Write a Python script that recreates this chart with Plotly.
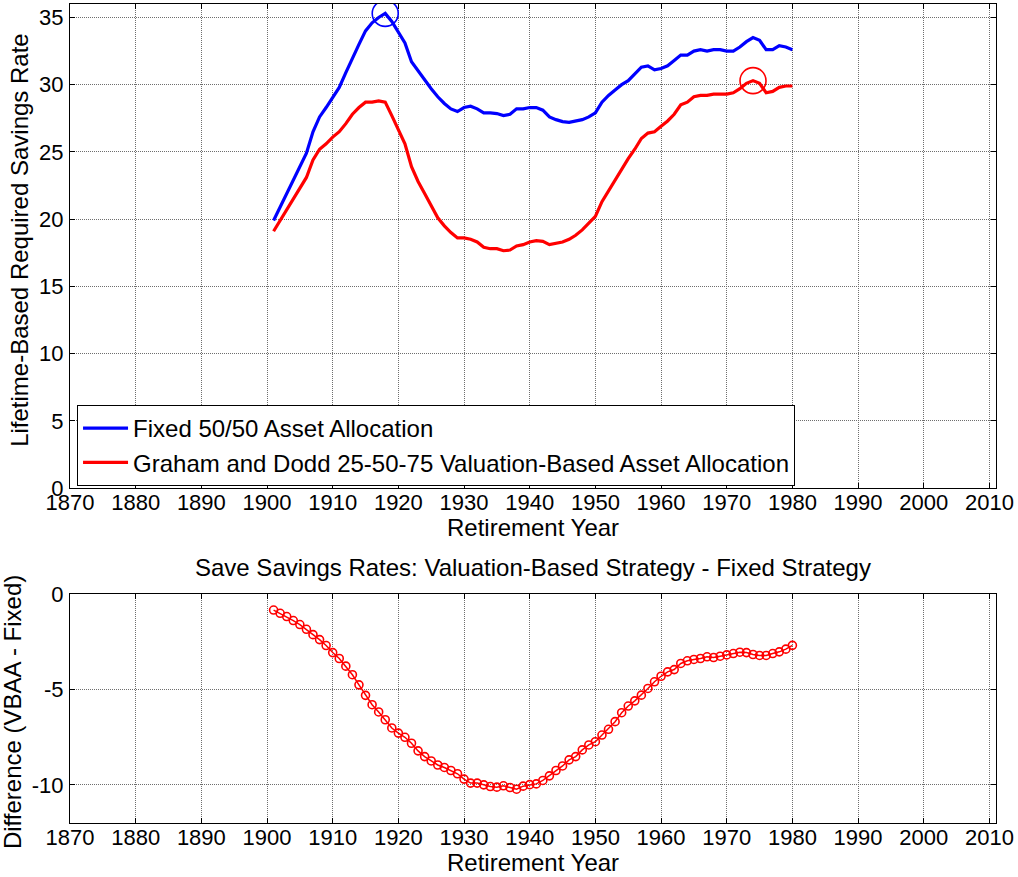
import plotly.graph_objects as go

years = list(range(1901, 1981))

fixed_5050 = [
    19.9, 20.9, 21.9, 22.9, 23.9, 24.9, 26.5, 27.6, 28.3, 29.1,
    29.8, 30.9, 32.0, 33.0, 34.0, 34.6, 35.0, 35.3, 34.7, 33.9,
    33.1, 31.7, 31.0, 30.4, 29.7, 29.1, 28.6, 28.2, 28.0, 28.3,
    28.4, 28.2, 27.9, 27.9, 27.85, 27.7, 27.8, 28.2, 28.2, 28.3,
    28.3, 28.1, 27.6, 27.4, 27.25, 27.2, 27.3, 27.4, 27.6, 27.9,
    28.7, 29.2, 29.6, 30.0, 30.3, 30.8, 31.3, 31.4, 31.1, 31.2,
    31.4, 31.8, 32.2, 32.2, 32.5, 32.6, 32.5, 32.6, 32.6, 32.5,
    32.5, 32.8, 33.2, 33.5, 33.3, 32.6, 32.6, 32.9, 32.8, 32.6,
]

valuation_based = [
    19.1, 19.9, 20.7, 21.5, 22.3, 23.1, 24.4, 25.2, 25.6, 26.1,
    26.5, 27.1, 27.8, 28.3, 28.7, 28.7, 28.8, 28.7, 27.7, 26.6,
    25.6, 23.9, 22.8, 21.9, 21.0, 20.1, 19.5, 19.0, 18.6, 18.6,
    18.5, 18.3, 17.9, 17.8, 17.8, 17.65, 17.7, 18.0, 18.1, 18.3,
    18.4, 18.35, 18.1, 18.2, 18.3, 18.5, 18.8, 19.2, 19.7, 20.2,
    21.3, 22.1, 22.9, 23.8, 24.5, 25.2, 26.0, 26.4, 26.5, 26.9,
    27.3, 27.8, 28.5, 28.7, 29.1, 29.2, 29.2, 29.3, 29.3, 29.3,
    29.4, 29.7, 30.1, 30.3, 30.1, 29.4, 29.5, 29.8, 29.9, 29.9,
]

difference = [
    -0.84, -1.01, -1.18, -1.39, -1.60, -1.85, -2.13, -2.39, -2.70, -3.07,
    -3.38, -3.78, -4.23, -4.76, -5.31, -5.80, -6.18, -6.59, -7.02, -7.29,
    -7.51, -7.82, -8.22, -8.52, -8.75, -8.96, -9.09, -9.25, -9.42, -9.70,
    -9.91, -9.91, -10.00, -10.09, -10.12, -10.05, -10.14, -10.23, -10.07, -9.99,
    -9.95, -9.77, -9.53, -9.25, -9.01, -8.69, -8.52, -8.17, -7.91, -7.74,
    -7.39, -7.09, -6.69, -6.22, -5.87, -5.60, -5.30, -4.95, -4.60, -4.31,
    -4.08, -3.96, -3.64, -3.50, -3.43, -3.38, -3.29, -3.33, -3.26, -3.19,
    -3.12, -3.05, -3.07, -3.17, -3.22, -3.22, -3.12, -3.03, -2.89, -2.69,
]

# highlighted maxima
fixed_peak_year, fixed_peak_value = [1918], [35.3]
vb_peak_year, vb_peak_value = [1974], [30.3]

x_ticks = list(range(1870, 2011, 10))
top_y_ticks = [0, 5, 10, 15, 20, 25, 30, 35]
bottom_y_ticks = [-10, -5, 0]
bottom_y_ticktext = ["-10", "-5", "0"]

FONT = "Liberation Sans, Arial, sans-serif"
BLUE = "#0000ff"
RED = "#ff0000"
TICK_SIZE = 22
TEXT_SIZE = 24

fig = go.Figure()

fig.add_trace(go.Scatter(
    x=years, y=fixed_5050, mode="lines", name="Fixed 50/50 Asset Allocation",
    line=dict(color=BLUE, width=3.2), xaxis="x", yaxis="y"))
fig.add_trace(go.Scatter(
    x=years, y=valuation_based, mode="lines",
    name="Graham and Dodd 25-50-75 Valuation-Based Asset Allocation",
    line=dict(color=RED, width=3.2), xaxis="x", yaxis="y"))
fig.add_trace(go.Scatter(
    x=fixed_peak_year, y=fixed_peak_value, mode="markers", showlegend=False,
    marker=dict(symbol="circle-open", size=26, color=BLUE, line=dict(width=1.6)),
    xaxis="x", yaxis="y"))
fig.add_trace(go.Scatter(
    x=vb_peak_year, y=vb_peak_value, mode="markers", showlegend=False,
    marker=dict(symbol="circle-open", size=26, color=RED, line=dict(width=1.6)),
    xaxis="x", yaxis="y"))
fig.add_trace(go.Scatter(
    x=years, y=difference, mode="lines+markers", showlegend=False,
    line=dict(color=RED, width=1.5),
    marker=dict(symbol="circle-open", size=8, color=RED, line=dict(width=1.6)),
    xaxis="x2", yaxis="y2"))

axis_common = dict(
    showline=True, linecolor="black", linewidth=1, mirror="ticks",
    ticks="inside", ticklen=5, tickcolor="black", tickwidth=1,
    showgrid=True, gridcolor="#6e6e6e", griddash="1px,1px", gridwidth=1,
    zeroline=False, automargin=False,
    tickfont=dict(family=FONT, size=TICK_SIZE, color="black"),
)

TOP_DOM = [0.409, 1.0]
BOT_DOM = [0.0, 0.2796]

fig.update_layout(
    template="none",
    width=1018, height=877,
    margin=dict(l=70, r=22, t=4, b=54, autoexpand=False),
    paper_bgcolor="white", plot_bgcolor="white",
    font=dict(family=FONT, size=TEXT_SIZE, color="black"),
    showlegend=True,
    xaxis=dict(axis_common, range=[1870, 2011], tickvals=x_ticks, domain=[0, 1], anchor="y",
               ticklabelstandoff=-5),
    yaxis=dict(axis_common, range=[0, 36], tickvals=top_y_ticks, domain=TOP_DOM, anchor="x",
               ticklabelstandoff=1),
    xaxis2=dict(axis_common, range=[1870, 2011], tickvals=x_ticks, domain=[0, 1], anchor="y2",
                ticklabelstandoff=-5),
    yaxis2=dict(axis_common, range=[-12, 0], tickvals=bottom_y_ticks,
                ticktext=bottom_y_ticktext, domain=BOT_DOM, anchor="x2",
                ticklabelstandoff=1),
    legend=dict(
        x=0.0076, y=0.4115, xanchor="left", yanchor="bottom",
        bgcolor="white", bordercolor="black", borderwidth=1,
        font=dict(family=FONT, size=TEXT_SIZE, color="black"),
        itemwidth=45, tracegroupgap=0,
    ),
    annotations=[
        dict(text="Retirement Year", x=0.5, y=0.3614, xref="paper", yref="paper",
             xanchor="center", yanchor="middle", showarrow=False,
             font=dict(family=FONT, size=TEXT_SIZE)),
        dict(text="Retirement Year", x=0.5, y=-0.0488, xref="paper", yref="paper",
             xanchor="center", yanchor="middle", showarrow=False,
             font=dict(family=FONT, size=TEXT_SIZE)),
        dict(text="Save Savings Rates: Valuation-Based Strategy - Fixed Strategy",
             x=0.5, y=0.3114, xref="paper", yref="paper",
             xanchor="center", yanchor="middle", showarrow=False,
             font=dict(family=FONT, size=TEXT_SIZE)),
        dict(text="Lifetime-Based Required Savings Rate", x=-0.054, y=0.712,
             xref="paper", yref="paper", xanchor="center", yanchor="middle",
             textangle=-90, showarrow=False, font=dict(family=FONT, size=TEXT_SIZE)),
        dict(text="Difference (VBAA - Fixed)", x=-0.0626, y=0.1355,
             xref="paper", yref="paper", xanchor="center", yanchor="middle",
             textangle=-90, showarrow=False, font=dict(family=FONT, size=TEXT_SIZE)),
    ],
)

fig.write_html(
    "out.html",
    config={"displayModeBar": False},
    post_script="document.body.style.margin='0';document.body.style.padding='0';",
)
